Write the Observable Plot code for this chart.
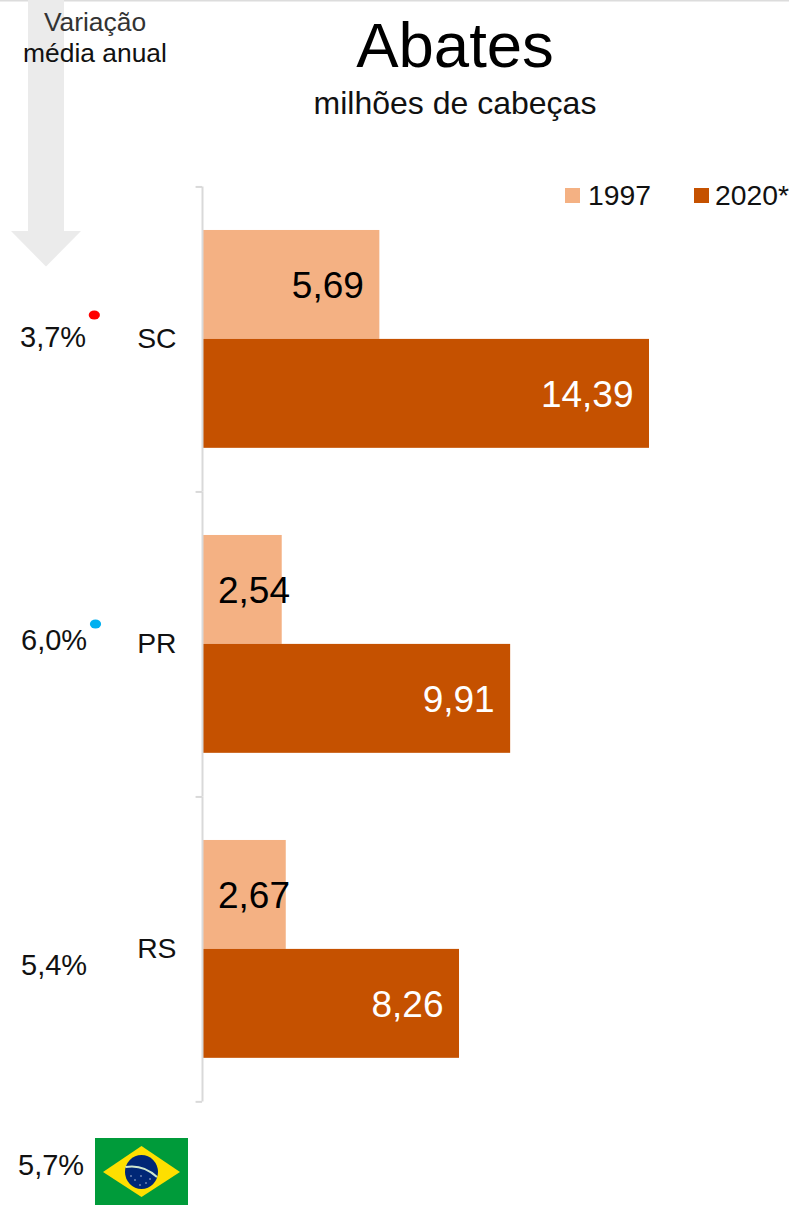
<!DOCTYPE html>
<html lang="pt">
<head>
<meta charset="utf-8">
<script src="https://cdn.jsdelivr.net/npm/d3@7"></script>
<script src="https://cdn.jsdelivr.net/npm/@observablehq/plot@0.6"></script>
<style>
html,body{margin:0;padding:0;background:#fff;width:789px;height:1205px;overflow:hidden;font-family:"Liberation Sans",Arial,sans-serif}
#wrap{position:relative;width:789px;height:1205px;overflow:hidden}
#wrap svg{position:absolute;left:0;top:0}
.t{position:absolute;white-space:nowrap;line-height:1}
.sw{position:absolute;width:15px;height:15px}
</style>
</head>
<body>
<div id="wrap">
<svg id="deco" width="789" height="1205" viewBox="0 0 789 1205">
  <rect x="0" y="0" width="789" height="1.5" fill="#dcdcdc"/>
  <path d="M28 0H64V231H81L46 266.5L11 231H28Z" fill="#ebebeb"/>
</svg>
<div id="plot"></div>
<svg id="flag" width="789" height="1205" viewBox="0 0 789 1205" style="pointer-events:none">
  <ellipse cx="94.3" cy="315" rx="5.6" ry="4.6" fill="#ff0000"/>
  <ellipse cx="95.5" cy="624" rx="5.6" ry="4.6" fill="#00b0f0"/>
  <rect x="95" y="1138" width="93" height="67" fill="#009b3a"/>
  <path d="M103 1172L141.5 1146L180 1172L141.5 1197Z" fill="#fedf00"/>
  <ellipse cx="141.5" cy="1172" rx="16.5" ry="17" fill="#002776"/>
  <path d="M125.5 1167Q143 1164 157 1177" fill="none" stroke="#cfe8d0" stroke-width="2"/>
  <g fill="#dfe8f5"><circle cx="135" cy="1180" r=".7"/><circle cx="141" cy="1176" r=".7"/><circle cx="146" cy="1183" r=".7"/><circle cx="131" cy="1176" r=".7"/><circle cx="150" cy="1179" r=".7"/><circle cx="140" cy="1185" r=".7"/></g>
</svg>
<div class="t" style="left:95px;top:8.5px;font-size:26.4px;color:#333;transform:translateX(-50%)">Variação</div>
<div class="t" style="left:95px;top:40px;font-size:26.4px;color:#111;transform:translateX(-50%)">média anual</div>
<div class="t" style="left:455px;top:14px;font-size:63.5px;color:#000;transform:translateX(-50%)">Abates</div>
<div class="t" style="left:455px;top:87px;font-size:32px;color:#111;transform:translateX(-50%)">milhões de cabeças</div>
<div class="sw" style="left:565px;top:188px;background:#f4b183"></div>
<div class="t" style="left:588px;top:181px;font-size:28.3px;color:#111">1997</div>
<div class="sw" style="left:694px;top:188px;background:#c55100"></div>
<div class="t" style="left:715px;top:181px;font-size:28.3px;color:#111">2020*</div>
</div>
<script>
const states = ["SC", "PR", "RS"];
const years = ["1997", "2020*"];
const values1997 = [5.69, 2.54, 2.67];
const values2020 = [14.39, 9.91, 8.26];
const variation = ["3,7%", "6,0%", "5,4%"];
const variationBrazil = "5,7%";
const colors = ["#f4b183", "#c55100"];

const fmt = v => v.toFixed(2).replace(".", ",");
const rows = states.flatMap((s, i) => [
  {state: s, year: years[0], value: values1997[i]},
  {state: s, year: years[1], value: values2020[i]}
]);
const narrow = d => d.value < 3;
const axisColor = "#d9d9d9";
const variationMark = (i, text, dy, dx) => Plot.text([text], {
  fy: () => states[i], frameAnchor: "left", textAnchor: "start",
  dx, dy, fontSize: 29, fill: "#111"
});

const chart = Plot.plot({
  width: 789, height: 1205,
  marginLeft: 203, marginRight: 140, marginTop: 186.4, marginBottom: 103.6,
  style: {fontFamily: "'Liberation Sans', Arial, sans-serif", background: "transparent", overflow: "visible"},
  x: {domain: [0, 14.39], axis: null},
  y: {domain: years, paddingInner: 0, paddingOuter: 0.4, axis: null, round: false},
  fy: {domain: states, padding: 0, label: null, round: false},
  color: {domain: years, range: colors},
  marks: [
    Plot.axisFy({anchor: "left", tickSize: 0, tickPadding: 27, fontSize: 28.3, color: "#111", label: null}),
    Plot.barX(rows, {x: "value", y: "year", fy: "state", fill: "year"}),
    Plot.ruleX(states, {x: () => 0, fy: d => d, dx: -1, stroke: axisColor, strokeWidth: 2}),
    Plot.ruleY(states, {y: () => years[0], x1: () => -0.24, x2: () => -0.03, fy: d => d, dy: -98, stroke: axisColor, strokeWidth: 2}),
    Plot.ruleY(["RS"], {y: () => years[1], x1: () => -0.24, x2: () => -0.03, fy: d => d, dy: 98, stroke: axisColor, strokeWidth: 2}),
    Plot.text(rows.filter(d => !narrow(d)), {
      x: "value", y: "year", fy: "state", text: d => fmt(d.value),
      textAnchor: "end", dx: -16, dy: 1, fontSize: 37,
      fill: d => d.year === years[0] ? "#000" : "#fff"
    }),
    Plot.text(rows.filter(narrow), {
      x: () => 0, y: "year", fy: "state", text: d => fmt(d.value),
      textAnchor: "start", dx: 14.5, dy: 1, fontSize: 37, fill: "#000"
    }),
    variationMark(0, variation[0], -1.5, -183.5),
    variationMark(1, variation[1], -3.5, -182.5),
    variationMark(2, variation[2], 16.5, -182.5),
    variationMark(2, variationBrazil, 216.5, -185.5)
  ]
});
document.getElementById("plot").appendChild(chart);
</script>
</body>
</html>
